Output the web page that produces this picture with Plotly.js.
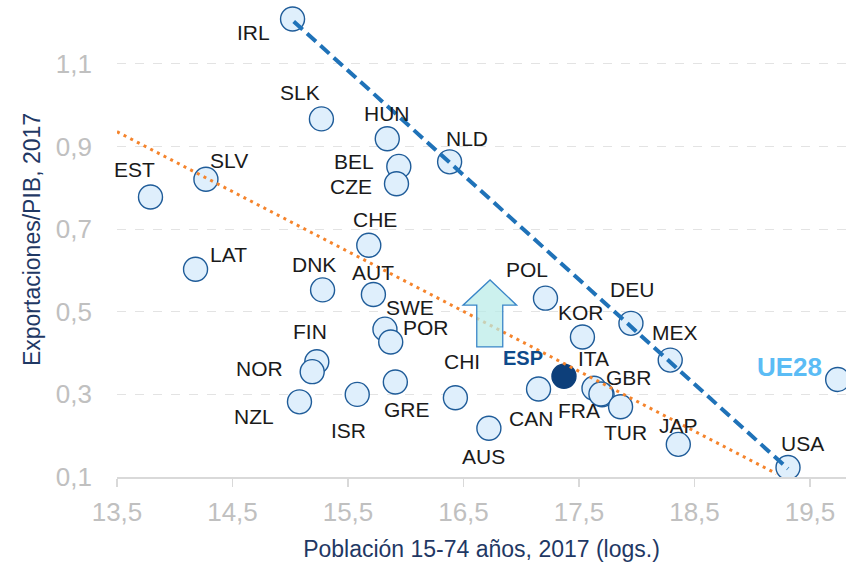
<!DOCTYPE html>
<html>
<head>
<meta charset="utf-8">
<script src="https://cdn.plot.ly/plotly-3.0.1.min.js"></script>
<style>html,body{margin:0;padding:0;background:#fff;}#chart{width:846px;height:565px;}</style>
</head>
<body>
<div id="chart"></div>
<script>
// Data
const countries = ["IRL","SLK","HUN","BEL","CZE","NLD","CHE","EST","SLV","LAT","DNK","AUT","POL","KOR","DEU","MEX","ITA","GBR","FRA","TUR","JAP","USA","UE28","CAN","AUS","CHI","GRE","ISR","NZL","FIN","NOR","SWE","POR"];
const popLog   = [15.02,15.27,15.84,15.94,15.92,16.38,15.68,13.79,14.27,14.18,15.28,15.72,17.21,17.53,17.95,18.29,17.63,17.70,17.69,17.86,18.36,19.31,19.74,17.15,16.72,16.43,15.91,15.58,15.08,15.23,15.19,15.82,15.87];
const exportsGdp = [1.209,0.967,0.919,0.852,0.810,0.863,0.661,0.778,0.821,0.603,0.553,0.542,0.533,0.439,0.472,0.383,0.315,0.299,0.301,0.270,0.179,0.123,0.336,0.313,0.218,0.292,0.330,0.300,0.282,0.379,0.355,0.458,0.427];
const espName = ["ESP"];
const espX = [17.37];
const espY = [0.344];
// Trend lines
const trendHighX = [15.03, 19.31];
const trendHighY = [1.203, 0.120];
const trendAllX = [13.5, 19.21];
const trendAllY = [0.936, 0.108];
// Tick values
const xTicks = [13.5,14.5,15.5,16.5,17.5,18.5,19.5];
const yTicks = [0.1,0.3,0.5,0.7,0.9,1.1];

// Label offsets in pixels (dx right, dy down) — presentation only
const labelDx = [-39,-21,0,-45,-46,17,6,-16,23,33,-9,0,-18,-1,1,5,0,27,-22,5,0,14,-48,-8,-5,7,12,-9,-45,-7,-53,25,35];
const labelDy = [14,-26,-25,-5,3,-23,-26,-27,-19,-15,-25,-22,-29,-24,-34,-28,-30,-17,17,26,-19,-24,-13,29,28,-36,27,36,15,-30,-3,-22,-14];

const traces = [
  {x: popLog, y: exportsGdp, type:'scatter', mode:'markers', hoverinfo:'text', text: countries,
   marker:{size:24, color:'#dfeffc', line:{color:'#1f5c99', width:1.4}}, cliponaxis:true},
  {x: espX, y: espY, type:'scatter', mode:'markers', text: espName,
   marker:{size:24, color:'#0d3f7a', line:{color:'#0d3f7a', width:1.4}}},
  {x: trendHighX, y: trendHighY, type:'scatter', mode:'lines', line:{color:'#1f72b8', width:4, dash:'12px,6px'}},
  {x: trendAllX, y: trendAllY, type:'scatter', mode:'lines', line:{color:'#f5842c', width:3, dash:'3px,4.5px'}}
];

const annotations = countries.map((c,i)=>{
  const isUE = c === 'UE28';
  return {x: popLog[i], y: exportsGdp[i], text: c, showarrow:false, xanchor:'center', yanchor:'middle',
    xshift: labelDx[i], yshift: -labelDy[i],
    font: isUE ? {family:'Liberation Sans, Arial, sans-serif', size:26, color:'#5bbcf5', weight:700}
               : {family:'Liberation Sans, Arial, sans-serif', size:21, color:'#1a1a1a'}};
});
annotations.push({x: espX[0], y: espY[0], text: '<b>ESP</b>', showarrow:false, xanchor:'center', yanchor:'middle',
  xshift:-41, yshift:18, font:{family:'Liberation Sans, Arial, sans-serif', size:20, color:'#0e4a8a'}});

// Up-arrow decoration (data coordinates)
const ax = [16.615,16.84,16.96,16.73,16.496];
const ay = [0.415,0.516,0.577];
const arrowPath = `M ${ax[0]} ${ay[0]} L ${ax[1]} ${ay[0]} L ${ax[1]} ${ay[1]} L ${ax[2]} ${ay[1]} L ${ax[3]} ${ay[2]} L ${ax[4]} ${ay[1]} L ${ax[0]} ${ay[1]} Z`;

const layout = {
  width:846, height:565,
  margin:{l:117, r:0, t:2, b:88},
  paper_bgcolor:'#ffffff', plot_bgcolor:'#ffffff',
  showlegend:false,
  separators:',.',
  font:{family:'Liberation Sans, Arial, sans-serif'},
  xaxis:{range:[13.5,19.812], tickvals:xTicks, tickformat:'.1f', showgrid:false, zeroline:false,
    showline:true, linecolor:'#d9d9d9', linewidth:1.5, ticks:'outside', ticklen:8, tickcolor:'#d9d9d9', tickwidth:1.5,
    ticklabelstandoff:3,
    tickfont:{size:26, color:'#c0c0c0'},
    title:{text:'Población 15-74 años, 2017 (logs.)', font:{size:23, color:'#1f3864'}, standoff:15}},
  yaxis:{range:[0.1,1.25], tickvals:yTicks, tickformat:'.1f', showgrid:true, gridcolor:'#e3e3e3', griddash:'dash', gridwidth:1,
    zeroline:false, showline:false, ticks:'', ticklabelstandoff:24,
    tickfont:{size:26, color:'#c0c0c0'},
    title:{text:'Exportaciones/PIB, 2017', font:{size:23, color:'#1f3864'}, standoff:8}},
  shapes:[{type:'path', xref:'x', yref:'y', path: arrowPath, fillcolor:'rgba(185,236,232,0.72)', line:{color:'#3a86c8', width:1.3}, layer:'above'}],
  annotations: annotations
};

Plotly.newPlot('chart', traces, layout, {displayModeBar:false, staticPlot:true});
</script>
</body>
</html>
